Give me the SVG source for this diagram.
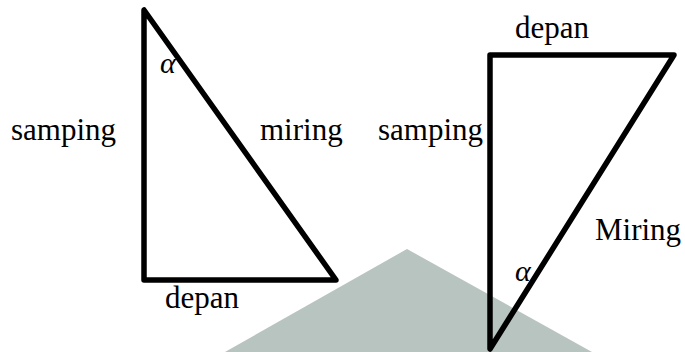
<svg xmlns="http://www.w3.org/2000/svg" width="685" height="352" viewBox="0 0 685 352">
<style>
.lbl{font-family:"Liberation Serif","Times New Roman",serif;font-size:31px;fill:#000}
.ang{font-family:"Liberation Serif","Times New Roman",serif;font-style:italic;font-size:30px;fill:#000}
.tri{fill:none;stroke:#000;stroke-width:5.5;stroke-linejoin:round}
</style>
<rect width="685" height="352" fill="#fff"/>
<polygon id="bg" points="407,249 225,352 592,352" fill="#b8c4bf"/>
<g id="connectors">
<polygon class="tri" points="144,10 144,280 336,280"/>
<polygon class="tri" points="490,55 674,55 490,349"/>
</g>
<g id="left-samping"><text class="lbl" x="11" y="140">samping</text></g>
<g id="left-miring"><text class="lbl" x="260" y="140">miring</text></g>
<g id="left-depan"><text class="lbl" x="165" y="308">depan</text></g>
<g id="left-alpha"><text class="ang" x="160" y="73">α</text></g>
<g id="right-samping"><text class="lbl" x="378" y="140">samping</text></g>
<g id="right-depan"><text class="lbl" x="515" y="38">depan</text></g>
<g id="right-miring"><text class="lbl" x="595" y="240">Miring</text></g>
<g id="right-alpha"><text class="ang" x="515" y="281">α</text></g>
</svg>
